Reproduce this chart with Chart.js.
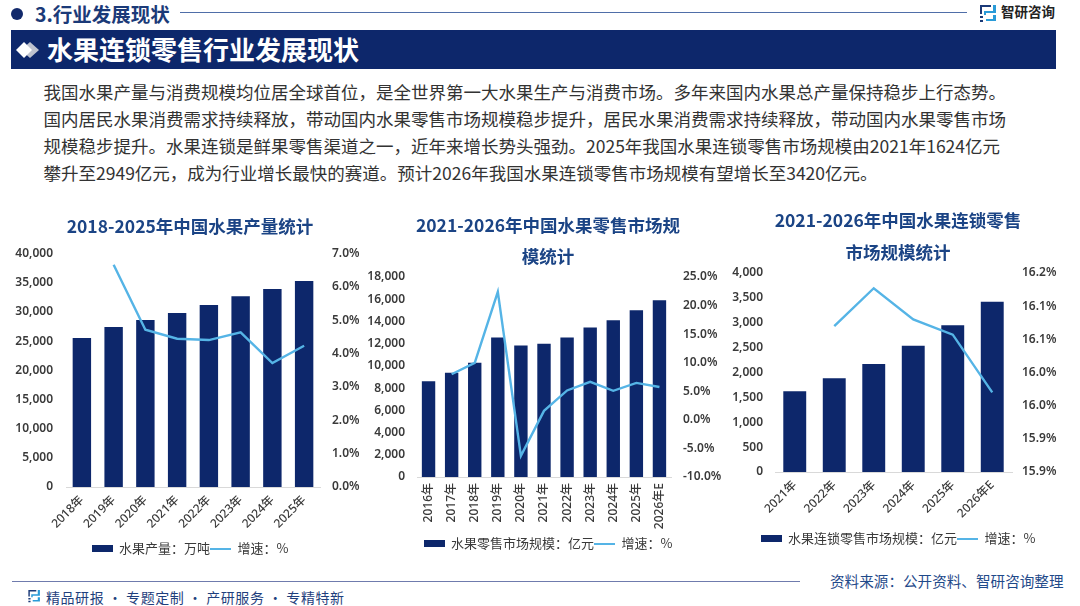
<!DOCTYPE html>
<html lang="zh"><head><meta charset="utf-8">
<script src="https://cdn.jsdelivr.net/npm/chart.js@4"></script>
<style>
html,body{margin:0;padding:0;background:#fff;}
body{width:1080px;height:606px;position:relative;overflow:hidden;font-family:"Noto Sans CJK SC","Noto Sans",sans-serif;}
.a{position:absolute;white-space:nowrap;line-height:1;}
canvas{position:absolute;}
</style></head><body>
<div class="a" style="left:11px;top:8px;width:12px;height:12px;border-radius:50%;background:#12296b"></div>
<div class="a" style="left:35px;top:4px;font-size:19.5px;font-weight:700;color:#1b3a78">3.行业发展现状</div>
<div class="a" style="left:180px;top:12px;width:787px;height:1px;background:#4f6ea8"></div>
<svg class="a" style="left:980px;top:5px" width="17" height="18" viewBox="0 0 17 18"><path d="M0 0H11V2H2V9H0ZM0 11H3V13H0ZM0 15H3V17H0Z" fill="#1b3a78"/><path d="M13 0H16V8H6V10H4V6H13ZM16 10V16H6V14H13V10Z" fill="#2a9bd8"/></svg>
<div class="a" style="left:1001px;top:5px;font-size:13.5px;font-weight:700;color:#222">智研咨询</div>
<div class="a" style="left:11px;top:30px;width:1045px;height:39px;background:#0d276b"></div>
<svg class="a" style="left:15px;top:40px" width="26" height="20" viewBox="0 0 26 20"><path d="M12 2L21 10L12 18L3 10Z" fill="#bfc3cf" transform="translate(3 0)"/><path d="M9 2L17 10L9 18L1 10Z" fill="#fff"/></svg>
<div class="a" style="left:47px;top:36px;font-size:26px;font-weight:700;color:#fff">水果连锁零售行业发展现状</div>
<div class="a" style="left:43.5px;top:83px;font-size:17.5px;color:#333">我国水果产量与消费规模均位居全球首位，是全世界第一大水果生产与消费市场。多年来国内水果总产量保持稳步上行态势。</div>
<div class="a" style="left:43.5px;top:110px;font-size:17.5px;color:#333">国内居民水果消费需求持续释放，带动国内水果零售市场规模稳步提升，居民水果消费需求持续释放，带动国内水果零售市场</div>
<div class="a" style="left:43.5px;top:137px;font-size:17.5px;color:#333">规模稳步提升。水果连锁是鲜果零售渠道之一，近年来增长势头强劲。2025年我国水果连锁零售市场规模由2021年1624亿元</div>
<div class="a" style="left:43.5px;top:164px;font-size:17.5px;color:#333">攀升至2949亿元，成为行业增长最快的赛道。预计2026年我国水果连锁零售市场规模有望增长至3420亿元。</div>
<canvas id="c1" style="left:15px;top:210px;width:350px;height:360px" width="350" height="360"></canvas>
<canvas id="c2" style="left:365px;top:205px;width:366px;height:360px" width="366" height="360"></canvas>
<canvas id="c3" style="left:732px;top:200px;width:332px;height:360px" width="332" height="360"></canvas>
<div class="a" style="left:12px;top:581px;width:788px;height:1px;background:#6f7bad"></div>
<svg class="a" style="left:28px;top:590px" width="13" height="13" viewBox="0 0 17 18"><path d="M0 0H11V2H2V9H0ZM0 11H3V13H0ZM0 15H3V17H0Z" fill="#1b3a78"/><path d="M13 0H16V8H6V10H4V6H13ZM16 10V16H6V14H13V10Z" fill="#2a9bd8"/></svg>
<div class="a" style="left:46px;top:590px;font-size:14px;color:#1f3f7d;letter-spacing:.55px">精品研报 · 专题定制 · 产研服务 · 专精特新</div>
<div class="a" style="left:830px;top:574px;font-size:14.6px;color:#1f4a8a">资料来源：公开资料、智研咨询整理</div>
<script>
const NAVY='#0d276b', SKY='#55b4e6', INK='#3a3a3a', TITLE='#1b4485';

const title1=['2018-2025年中国水果产量统计'];
const cats1=['2018年','2019年','2020年','2021年','2022年','2023年','2024年','2025年'];
const bars1=[25570,27420,28630,29840,31230,32730,33940,35320];
const line1=[null,6.67,4.72,4.45,4.41,4.64,3.72,4.24];
const legend1=['水果产量：万吨','增速：%'];

const title2=['2021-2026年中国水果零售市场规','模统计'];
const cats2=['2016年','2017年','2018年','2019年','2020年','2021年','2022年','2023年','2024年','2025年','2026年E'];
const bars2=[8626,9374,10277,12550,11834,11990,12550,13453,14108,15010,15913];
const line2=[null,7.98,9.98,22.4,-6.3,1.57,5.14,6.65,5.08,6.47,5.74];
const legend2=['水果零售市场规模：亿元','增速：%'];

const title3=['2021-2026年中国水果连锁零售','市场规模统计'];
const cats3=['2021年','2022年','2023年','2024年','2025年','2026年E'];
const bars3=[1624,1882,2173,2540,2949,3420];
const line3=[null,16.12,16.177,16.13,16.107,16.02];
const legend3=['水果连锁零售市场规模：亿元','增速：%'];
const rightTicks3=['15.9%','15.9%','16.0%','16.0%','16.1%','16.1%','16.2%'];

function swatch(w,h,color){
  const c=document.createElement('canvas');c.width=w;c.height=h;
  const x=c.getContext('2d');x.fillStyle=color;x.fillRect(0,0,w,h);return c;
}
const FF='"Noto Sans","Noto Sans CJK SC",sans-serif';
const LF='"Noto Sans CJK SC","Noto Sans",sans-serif';
function make(id,o){
  new Chart(document.getElementById(id),{
    data:{labels:o.cats,datasets:[
      {type:'line',label:o.legend[1],data:o.line,yAxisID:'y1',borderColor:SKY,borderWidth:2.4,pointRadius:0,tension:0,spanGaps:false,order:1},
      {type:'bar',label:o.legend[0],data:o.bars,yAxisID:'y',backgroundColor:NAVY,categoryPercentage:1,barPercentage:o.barPct,order:2}
    ]},
    options:{
      responsive:false,animation:false,devicePixelRatio:1,
      layout:{padding:{top:o.padTop,bottom:o.padBottom,left:0,right:0}},
      plugins:{
        tooltip:{enabled:false},
        title:{display:true,text:o.title,color:TITLE,font:{family:LF,size:17.5,weight:'700',lineHeight:o.titleLH},padding:{top:0,bottom:o.titleGap}},
        legend:{position:'bottom',labels:{usePointStyle:true,pointStyleWidth:21,color:INK,padding:o.legendPad||0,
          font:{family:LF,size:13},
          boxHeight:7,
          generateLabels:()=>[
            {text:o.legend[0],pointStyle:swatch(21,7,NAVY),datasetIndex:1,fontColor:INK,hidden:false,lineWidth:0},
            {text:o.legend[1],pointStyle:swatch(21,2,SKY),datasetIndex:0,fontColor:INK,hidden:false,lineWidth:0}
          ]}}
      },
      scales:{
        x:{grid:{display:false,drawTicks:false},border:{color:'#d9d9d9'},
          ticks:{color:INK,font:{family:FF,size:12,weight:'500'},maxRotation:o.rot,minRotation:o.rot,autoSkip:false,padding:o.xPad},
          afterFit(s){s.height=o.xH;}},
        y:{position:'left',min:0,max:o.ymax,grid:{display:false,drawTicks:false},border:{display:false},
          ticks:{stepSize:o.ystep,color:INK,font:{family:FF,size:12,weight:'600'},padding:o.yPad},
          afterFit(s){s.width=o.yW;}},
        y1:{position:'right',min:o.rmin,max:o.rmax,grid:{display:false,drawTicks:false},border:{display:false},
          ticks:{stepSize:o.rstep,color:INK,font:{family:FF,size:12,weight:'600'},padding:o.rPad,
            callback:o.rcb||((v)=>Number(v).toFixed(1)+'%')},
          afterFit(s){s.width=o.rW;}}
      }
    }
  });
}
make('c1',{title:title1,cats:cats1,bars:bars1,line:line1,legend:legend1,barPct:.58,rot:45,
  ymax:40000,ystep:5000,rmin:0,rmax:7,rstep:1,
  padTop:5,padBottom:5,titleLH:1.3,titleGap:16,xH:55,xPad:6,yW:51,yPad:13,rW:45,rPad:12});
make('c2',{title:title2,cats:cats2,bars:bars2,line:line2,legend:legend2,barPct:.58,rot:90,
  ymax:18000,ystep:2000,rmin:-10,rmax:25,rstep:5,
  padTop:5,padBottom:5,titleLH:1.77,titleGap:5,xH:60,xPad:6,yW:52,yPad:12,rW:60,rPad:12});
make('c3',{title:title3,cats:cats3,bars:bars3,line:line3,legend:legend3,barPct:.58,rot:45,
  ymax:4000,ystep:500,rmin:15.9,rmax:16.2,rstep:.05,
  rcb:(v,i)=>rightTicks3[i],
  padTop:5,padBottom:5,titleLH:1.8,titleGap:5,xH:60,xPad:6,yW:43,yPad:12,rW:52,rPad:10});
</script>
</body></html>
